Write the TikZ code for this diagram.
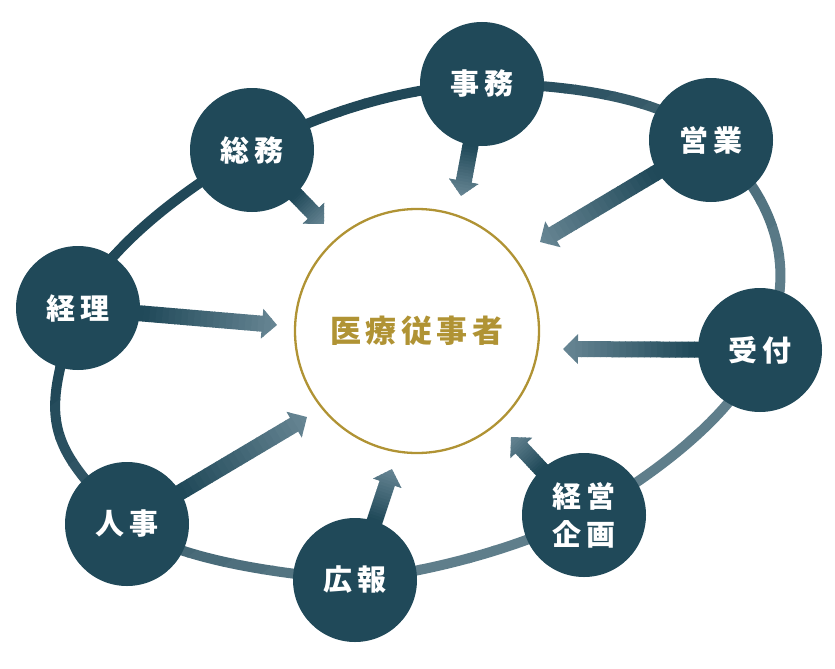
\documentclass[tikz,border=0pt]{standalone}
\usepackage{fontspec}
\newfontfamily\jp{Noto Sans CJK JP}
\usetikzlibrary{calc}
\definecolor{nodecol}{RGB}{32,73,89}
\definecolor{ringdark}{RGB}{33,72,88}
\definecolor{ringlight}{RGB}{95,126,139}
\definecolor{arrlight}{RGB}{106,136,150}
\definecolor{gold}{RGB}{176,147,52}
\pgfdeclarelayer{ringlayer}
\pgfdeclarelayer{arrowlayer}
\pgfsetlayers{ringlayer,arrowlayer,main}
\newcommand\jgap{\kern6pt}
\newcommand\cgap{\kern4.5pt}
\def\ringpath{(A.center) .. controls (110,240) and (200,180) .. (B.center)
 .. controls (319,113) and (405.5,86.7) .. (C.center)
 .. controls (558.5,83.3) and (665,96) .. (D.center)
 .. controls (780,200) and (800,280) .. (E.center)
 .. controls (739,412.5) and (651.5,477) .. (F.center)
 .. controls (520,548) and (430,572) .. (G.center)
 .. controls (280,574) and (175,560) .. (H.center)
 .. controls (44,442) and (40.5,420) .. (A.center)}
\newcommand\gradarrow[2]{%
 \path let \p1=($(#2)-(#1.center)$), \n1={atan2(\y1,\x1)}, \n2={veclen(\x1,\y1)} in
  \pgfextra{\pgfmathsetmacro\tmpa{\n1}\xdef\arrang{\tmpa}\pgfmathsetmacro\tmpb{\n2}\xdef\arrlen{\tmpb}};
 \begin{scope}[shift={(#1.center)}, rotate=\arrang]
  \pgfmathsetmacro\hb{\arrlen-15}
  \clip (40pt,-8pt) -- (\hb pt,-8pt) -- (\hb pt,-15pt) -- (\arrlen pt,0pt) -- (\hb pt,15pt) -- (\hb pt,8pt) -- (40pt,8pt) -- cycle;
  \foreach \k in {0,...,24} {%
   \pgfmathsetmacro\xa{40+(\arrlen-40)*\k/25}
   \pgfmathsetmacro\xb{\xa+(\arrlen-40)/25+0.8}
   \pgfmathtruncatemacro\pct{max(0,min(100,(\xa-62)/(\arrlen-62)*100))}
   \fill[color=arrlight!\pct!nodecol] (\xa pt,-16pt) rectangle (\xb pt,16pt);
  }
 \end{scope}}
\begin{document}
\begin{tikzpicture}[x=1pt,y=-1pt,
 dept/.style={circle, fill=nodecol, minimum size=124pt, inner sep=0pt, text=white,
   font=\jp\bfseries\fontsize{29}{38}\selectfont, align=center}]
\useasboundingbox (0,0) rectangle (835,669);
% nodes
\node[dept] (A) at (78,308) {経\jgap 理};
\node[dept] (B) at (252,150) {総\jgap 務};
\node[dept] (C) at (482,84) {事\jgap 務};
\node[dept] (D) at (711,140) {営\jgap 業};
\node[dept] (E) at (760,350) {受\jgap 付};
\node[dept] (F) at (584,515) {経\jgap 営\\企\jgap 画};
\node[dept] (G) at (355,580) {広\jgap 報};
\node[dept] (H) at (127,524) {人\jgap 事};
\node[circle, draw=gold, line width=2.3pt, minimum size=244pt, inner sep=0pt,
  text=gold, font=\jp\bfseries\fontsize{31}{36}\selectfont] (M) at (417,331)
  {医\cgap 療\cgap 従\cgap 事\cgap 者};
% arrow tips
\coordinate (tA) at (277,325);
\coordinate (tB) at (324,224);
\coordinate (tC) at (461,196);
\coordinate (tD) at (540,242);
\coordinate (tE) at (563,349);
\coordinate (tF) at (511,437);
\coordinate (tG) at (392,469);
\coordinate (tH) at (307,417);
% ring
\begin{pgfonlayer}{ringlayer}
\foreach \i in {0,...,29}{
 \pgfmathsetmacro\ta{\i*29}
 \pgfmathsetmacro\tb{\ta+30}
 \pgfmathtruncatemacro\pct{max(0,min(100,(\ta+14.5-250)/3.5))}
 \begin{scope}
  \clip ($(50,80)+\ta*(0.6,0.8)+1000*(-0.8,0.6)$) -- ($(50,80)+\tb*(0.6,0.8)+1000*(-0.8,0.6)$)
     -- ($(50,80)+\tb*(0.6,0.8)-1000*(-0.8,0.6)$) -- ($(50,80)+\ta*(0.6,0.8)-1000*(-0.8,0.6)$) -- cycle;
  \draw[line width=10pt, color=ringlight!\pct!ringdark] \ringpath;
 \end{scope}
}
\end{pgfonlayer}
% arrows
\begin{pgfonlayer}{arrowlayer}
\gradarrow{A}{tA}
\gradarrow{B}{tB}
\gradarrow{C}{tC}
\gradarrow{D}{tD}
\gradarrow{E}{tE}
\gradarrow{F}{tF}
\gradarrow{G}{tG}
\gradarrow{H}{tH}
\end{pgfonlayer}
\end{tikzpicture}
\end{document}
